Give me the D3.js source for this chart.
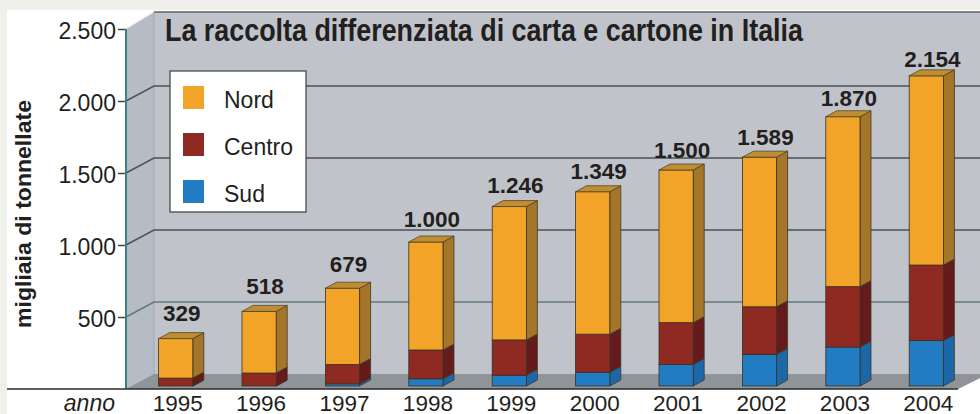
<!DOCTYPE html>
<html>
<head>
<meta charset="utf-8">
<script src="https://cdn.jsdelivr.net/npm/d3@7"></script>
<style>
html, body { margin: 0; padding: 0; background: #f0f0ea; }
svg { display: block; font-family: "Liberation Sans", Arial, sans-serif; }
</style>
</head>
<body>
<svg id="chart" width="980" height="414"></svg>
<script>
var years = ["1995", "1996", "1997", "1998", "1999", "2000", "2001", "2002", "2003", "2004"];
var totals = [329, 518, 679, 1000, 1246, 1349, 1500, 1589, 1870, 2154];
var sud = [0, 0, 15, 50, 75, 95, 150, 220, 270, 315];
var centro = [55, 90, 135, 200, 245, 265, 290, 330, 420, 525];
var nord = [274, 428, 529, 750, 926, 989, 1060, 1039, 1180, 1314];
var yTicks = [500, 1000, 1500, 2000, 2500];
var seriesNames = ["Nord", "Centro", "Sud"];
var titleText = "La raccolta differenziata di carta e cartone in Italia";

var colors = {
    Nord: { front: "#f2a428", side: "#a5752a", top: "#c08c34" },
    Centro: { front: "#8e2a22", side: "#651a1b", top: "#651a1b" },
    Sud: { front: "#227cc4", side: "#1c67a8", top: "#1c67a8" }
};

var svg = d3.select("#chart");
var fmt = d3.formatLocale({ decimal: ",", thousands: ".", grouping: [3], currency: ["", ""] }).format(",");

// wall depth and bar depth
var depthX = 28, depthY = 15;
var barDX = 11, barDY = 6;

var y = d3.scaleLinear().domain([0, 2500]).range([389, 29]);
var x = d3.scaleBand().domain(years).range([134, 968]).paddingInner(0.59).paddingOuter(0.295);

// page background and panel
svg.append("rect").attr("x", 7).attr("y", 10).attr("width", 973).attr("height", 404).attr("fill", "#ffffff");

// walls
svg.append("path")
    .attr("d", "M126," + y(0) + "L126,29L154,12L980,12L980,378L958," + y(0) + "Z")
    .attr("fill", "#c0c4ca");
svg.append("path")
    .attr("d", "M126," + y(0) + "L126,29L154,12L154," + (y(0) - depthY) + "Z")
    .attr("fill", "#b6bcc6");
svg.append("path")
    .attr("d", "M126," + y(0) + "L154," + (y(0) - depthY) + "L980," + (y(0) - depthY) + "L980,378L958," + y(0) + "Z")
    .attr("fill", "#8f9499");
svg.append("line").attr("x1", 154).attr("x2", 154).attr("y1", 12).attr("y2", y(0) - depthY)
    .attr("stroke", "#a3aab3").attr("stroke-width", 1);
svg.append("line").attr("x1", 154).attr("x2", 980).attr("y1", 12).attr("y2", 12)
    .attr("stroke", "#5d6568").attr("stroke-width", 1.5);
svg.append("path").attr("d", "M126,29L154,12").attr("fill", "none").attr("stroke", "#e4e6e8").attr("stroke-width", 1);

// grid lines
var grid = svg.append("g").selectAll("path")
    .data(yTicks.slice(0, 4))
    .enter()
    .append("path")
    .attr("d", function (d) {
        return "M126," + y(d) + "L154," + (y(d) - depthY) + "L980," + (y(d) - depthY);
    })
    .attr("fill", "none")
    .attr("stroke", function (d) { return d == 500 ? "#65797d" : "#4a5357"; })
    .attr("stroke-width", 1.5);

// axes
var yAxis = svg.append("g")
    .attr("transform", "translate(126,0)")
    .call(d3.axisLeft(y).tickValues(yTicks).tickSize(8).tickPadding(2).tickFormat(fmt));
yAxis.select(".domain").remove();
yAxis.selectAll("line").style("stroke", "#444").style("stroke-width", 1.5);
yAxis.selectAll("text")
    .attr("dy", "0.4em")
    .style("font-size", "23px")
    .style("fill", "#231f20")
    .style("font-family", "'Liberation Sans'");
svg.append("line").attr("x1", 126).attr("x2", 126).attr("y1", 29).attr("y2", y(0))
    .attr("stroke", "#3c7f84").attr("stroke-width", 2);
svg.append("line").attr("x1", 7).attr("x2", 958).attr("y1", y(0)).attr("y2", y(0))
    .attr("stroke", "#2a2a2a").attr("stroke-width", 1.5);

var xAxis = svg.append("g")
    .attr("transform", "translate(2," + y(0) + ")")
    .call(d3.axisBottom(x).tickSize(0));
xAxis.select(".domain").remove();
xAxis.selectAll("text")
    .attr("y", 21.5)
    .attr("dy", 0)
    .style("font-size", "22.5px")
    .style("fill", "#231f20")
    .style("font-family", "'Liberation Sans'");

svg.append("text")
    .attr("x", 115).attr("y", 410.5)
    .attr("text-anchor", "end")
    .style("font-size", "23px")
    .style("font-style", "italic")
    .style("fill", "#231f20")
    .text("anno");

svg.append("text")
    .attr("transform", "translate(31,214) rotate(-90)")
    .attr("text-anchor", "middle")
    .style("font-size", "22px")
    .style("font-weight", "bold")
    .style("fill", "#231f20")
    .attr("textLength", 228)
    .attr("lengthAdjust", "spacingAndGlyphs")
    .text("migliaia di tonnellate");

// stacked bars, drawn with a small 3d side and top
var h = function (v) { return y(0) - y(v); };
var base = y(0) - 3;
var barRows = years.map(function (yr, i) {
    return { year: yr, total: totals[i], Sud: sud[i], Centro: centro[i], Nord: nord[i] };
});
var stack = d3.stack().keys(["Sud", "Centro", "Nord"])(barRows);

var layers = svg.append("g").selectAll("g")
    .data(stack)
    .enter()
    .append("g");

layers.selectAll(".side")
    .data(function (s) { return s.map(function (d) { return { key: s.key, d: d }; }); })
    .enter()
    .append("path")
    .attr("class", "side")
    .attr("d", function (o) {
        var x1 = x(o.d.data.year) + x.bandwidth();
        var b = base - h(o.d[0]), t = base - h(o.d[1]);
        return "M" + x1 + "," + b + "L" + (x1 + barDX) + "," + (b - barDY) + "L" + (x1 + barDX) + "," + (t - barDY) + "L" + x1 + "," + t + "Z";
    })
    .attr("fill", function (o) { return colors[o.key].side; })
    .attr("stroke", "#3a3a28")
    .attr("stroke-width", 0.8);

layers.selectAll(".front")
    .data(function (s) { return s.map(function (d) { return { key: s.key, d: d }; }); })
    .enter()
    .append("rect")
    .attr("class", "front")
    .attr("x", function (o) { return x(o.d.data.year); })
    .attr("width", x.bandwidth())
    .attr("y", function (o) { return base - h(o.d[1]); })
    .attr("height", function (o) { return h(o.d[1]) - h(o.d[0]); })
    .attr("fill", function (o) { return colors[o.key].front; })
    .attr("stroke", "#3a3020")
    .attr("stroke-width", 0.8);

// top face only on the last layer
svg.append("g").selectAll("path")
    .data(barRows)
    .enter()
    .append("path")
    .attr("d", function (d) {
        var x0 = x(d.year), x1 = x0 + x.bandwidth(), t = base - h(d.total);
        return "M" + x0 + "," + t + "L" + (x0 + barDX) + "," + (t - barDY) + "L" + (x1 + barDX) + "," + (t - barDY) + "L" + x1 + "," + t + "Z";
    })
    .attr("fill", colors.Nord.top)
    .attr("stroke", "#4f4a24")
    .attr("stroke-width", 0.8);

// total labels, they sit closer to the bar as the bars get taller
var labelLift = d3.scaleLinear().domain([329, 2154]).range([18, 9]);
svg.append("g").selectAll("text")
    .data(barRows)
    .enter()
    .append("text")
    .attr("x", function (d) { return x(d.year) + x.bandwidth() / 2 + 6; })
    .attr("y", function (d) { return base - h(d.total) - labelLift(d.total); })
    .attr("text-anchor", "middle")
    .style("font-size", "22.5px")
    .style("font-weight", "bold")
    .style("fill", "#231f20")
    .text(function (d) { return fmt(d.total); });

// title
svg.append("text")
    .attr("x", 165).attr("y", 41)
    .attr("textLength", 638)
    .attr("lengthAdjust", "spacingAndGlyphs")
    .style("font-size", "30.5px")
    .style("font-weight", "bold")
    .style("fill", "#231f20")
    .text(titleText);

// legend
var legend = svg.append("g").attr("transform", "translate(170,71)");
legend.append("rect").attr("width", 136).attr("height", 141)
    .attr("fill", "#fff").attr("stroke", "#3a3f42").attr("stroke-width", 1.2);
var legendItem = legend.selectAll(".item")
    .data(seriesNames)
    .enter()
    .append("g")
    .attr("class", "item")
    .attr("transform", function (d, i) { return "translate(0," + (15 + i * 47) + ")"; });
legendItem.append("rect")
    .attr("x", 13).attr("width", 21).attr("height", 23)
    .attr("fill", function (d) { return colors[d].front; });
legendItem.append("text")
    .attr("x", 54).attr("y", 22)
    .style("font-size", "23px")
    .style("fill", "#231f20")
    .text(function (d) { return d; });
</script>
</body>
</html>
